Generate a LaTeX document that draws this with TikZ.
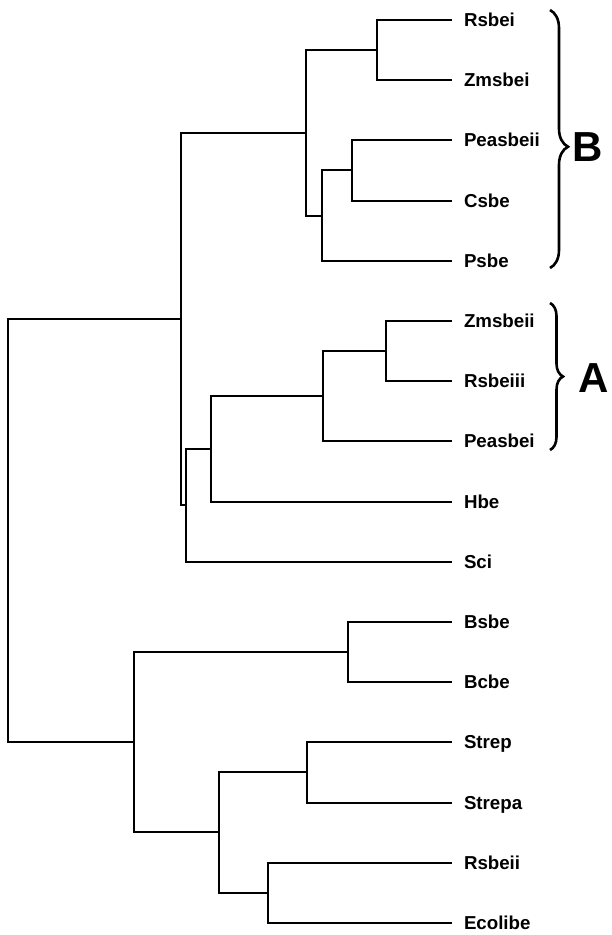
\documentclass[tikz,border=0pt]{standalone}
\usepackage{fontspec}
\setmainfont{Liberation Sans}
\usetikzlibrary{decorations.pathreplacing}
\begin{document}
\begin{tikzpicture}[x=1pt,y=-1pt,
  line width=2pt, line join=miter,
  leaf/.style={anchor=west, inner xsep=11pt, inner ysep=0pt, text height=13.4pt, text depth=0pt,
    font=\bfseries\fontsize{18.7}{20}\selectfont},
  bigletter/.style={font=\bfseries\fontsize{42}{42}\selectfont, inner sep=0pt},
  bracestyle/.style={decorate, line width=2.6pt}]
\useasboundingbox (0,0) rectangle (611,935);
% leaves
\node[leaf] (Rsbei)    at (452,20)  {Rsbei};
\node[leaf] (Zmsbei)   at (452,80)  {Zmsbei};
\node[leaf] (Peasbeii) at (452,140) {Peasbeii};
\node[leaf] (Csbe)     at (452,201) {Csbe};
\node[leaf] (Psbe)     at (452,261) {Psbe};
\node[leaf] (Zmsbeii)  at (452,321) {Zmsbeii};
\node[leaf] (Rsbeiii)  at (452,381) {Rsbeiii};
\node[leaf] (Peasbei)  at (452,441) {Peasbei};
\node[leaf] (Hbe)      at (452,502) {Hbe};
\node[leaf] (Sci)      at (452,562) {Sci};
\node[leaf] (Bsbe)     at (452,622) {Bsbe};
\node[leaf] (Bcbe)     at (452,682) {Bcbe};
\node[leaf] (Strep)    at (452,742) {Strep};
\node[leaf] (Strepa)   at (452,803) {Strepa};
\node[leaf] (Rsbeii)   at (452,863) {Rsbeii};
\node[leaf] (Ecolibe)  at (452,923) {Ecolibe};
% internal nodes
\coordinate (n1)  at (377,50);
\coordinate (n2)  at (352,170);
\coordinate (n3)  at (322,216);
\coordinate (n4)  at (306,133);
\coordinate (n5)  at (386,351);
\coordinate (n6)  at (323,396);
\coordinate (n7)  at (211,449);
\coordinate (n8)  at (186,505);
\coordinate (n9)  at (181,319);
\coordinate (n10) at (348,652);
\coordinate (n11) at (307,772);
\coordinate (n12) at (268,893);
\coordinate (n13) at (219,832);
\coordinate (n14) at (134,742);
\coordinate (root) at (8,530.5);
% connectors
\draw (Rsbei.west) -| (n1) |- (Zmsbei.west);
\draw (Peasbeii.west) -| (n2) |- (Csbe.west);
\draw (n2) -| (n3) |- (Psbe.west);
\draw (n1) -| (n4) |- (n3);
\draw (Zmsbeii.west) -| (n5) |- (Rsbeiii.west);
\draw (n5) -| (n6) |- (Peasbei.west);
\draw (n6) -| (n7) |- (Hbe.west);
\draw (n7) -| (n8) |- (Sci.west);
\draw (n4) -| (n9) |- (n8);
\draw (Bsbe.west) -| (n10) |- (Bcbe.west);
\draw (Strep.west) -| (n11) |- (Strepa.west);
\draw (Rsbeii.west) -| (n12) |- (Ecolibe.west);
\draw (n11) -| (n13) |- (n12);
\draw (n10) -| (n14) |- (n13);
\draw (n9) -| (root) |- (n14);
% braces
\coordinate (bBtop) at (550,10);
\coordinate (bBbot) at (550,268);
\coordinate (bAtop) at (550,303);
\coordinate (bAbot) at (550,450);
\draw[bracestyle, decoration={brace, amplitude=18pt, aspect=0.53}] (bBtop) -- (bBbot);
\draw[bracestyle, decoration={brace, amplitude=13pt, aspect=0.5}] (bAtop) -- (bAbot);
\node[bigletter] (B) at (588,147) {B};
\node[bigletter] (A) at (594,378) {A};
\end{tikzpicture}
\end{document}
